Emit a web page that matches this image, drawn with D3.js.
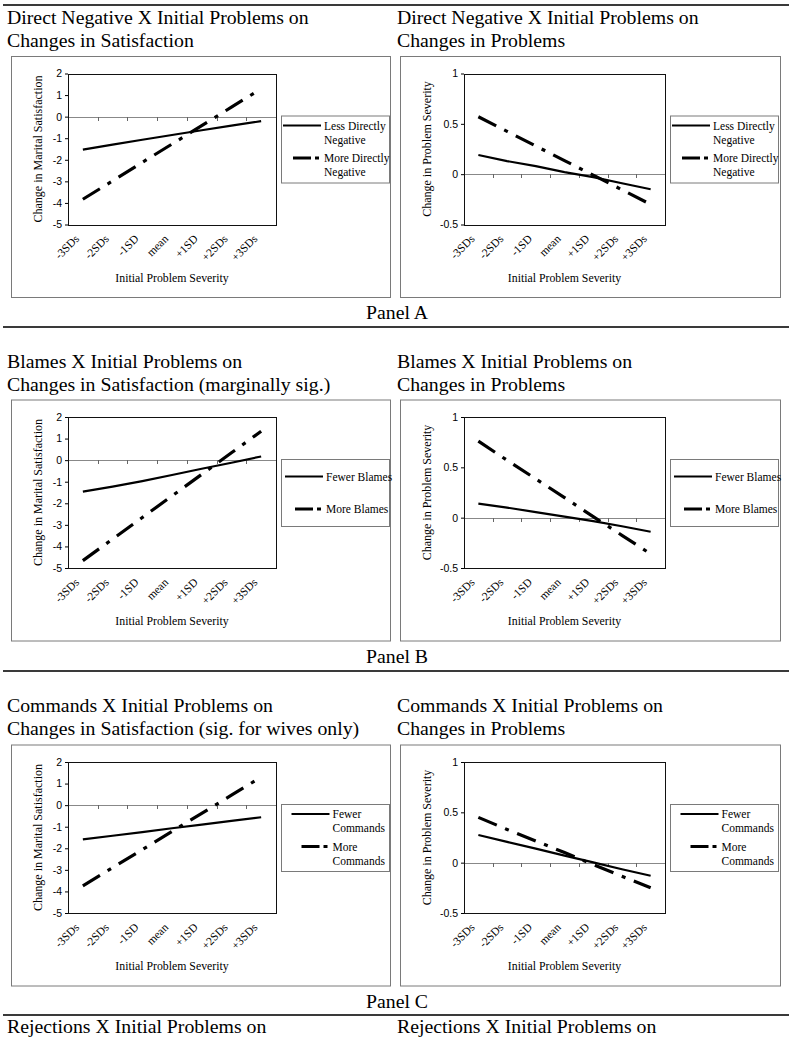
<!DOCTYPE html>
<html><head><meta charset="utf-8">
<script src="https://cdn.jsdelivr.net/npm/d3@7"></script>
<style>body{margin:0;background:#fff} svg{display:block}</style>
</head><body><svg id="c" width="794" height="1043"></svg>
<script>
// ---------------- DATA ----------------
const categories = ["-3SDs","-2SDs","-1SD","mean","+1SD","+2SDs","+3SDs"];
const satTicks = [-5,-4,-3,-2,-1,0,1,2];
const probTicks = [-0.5,0,0.5,1];

const panelTitles = ["Panel A","Panel B","Panel C"];
const chartTitles = [
  ["Direct Negative X Initial Problems on","Changes in Satisfaction"],
  ["Direct Negative X Initial Problems on","Changes in Problems"],
  ["Blames X Initial Problems on","Changes in Satisfaction (marginally sig.)"],
  ["Blames X Initial Problems on","Changes in Problems"],
  ["Commands X Initial Problems on","Changes in Satisfaction (sig. for wives only)"],
  ["Commands X Initial Problems on","Changes in Problems"]
];
const nextTitle = "Rejections X Initial Problems on";
const xTitle = "Initial Problem Severity";
const ySatTitle = "Change in Marital Satisfaction";
const yProbTitle = "Change in Problem Severity";

const legendA = [["Less Directly","Negative"],["More Directly","Negative"]];
const legendB = [["Fewer Blames"],["More Blames"]];
const legendC = [["Fewer","Commands"],["More","Commands"]];

const aSatLess  = [-1.53,-1.30,-1.07,-0.85,-0.63,-0.42,-0.21];
const aSatMore  = [-3.83,-2.98,-2.12,-1.27,-0.42,0.44,1.29];
const aProbLess = [0.19,0.13,0.08,0.02,-0.03,-0.09,-0.15];
const aProbMore = [0.57,0.425,0.28,0.135,-0.01,-0.155,-0.30];
const bSatFewer = [-1.46,-1.23,-0.97,-0.69,-0.40,-0.12,0.17];
const bSatMore  = [-4.66,-3.66,-2.66,-1.66,-0.66,0.34,1.34];
const bProbFewer= [0.14,0.10,0.055,0.01,-0.035,-0.085,-0.14];
const bProbMore = [0.76,0.57,0.385,0.20,0.01,-0.175,-0.36];
const cSatFewer = [-1.59,-1.42,-1.25,-1.07,-0.90,-0.73,-0.56];
const cSatMore  = [-3.74,-2.90,-2.06,-1.22,-0.38,0.46,1.30];
const cProbFewer= [0.275,0.207,0.14,0.07,0.003,-0.065,-0.13];
const cProbMore = [0.45,0.33,0.215,0.10,-0.02,-0.135,-0.25];

// ---------------- LAYOUT ----------------
const serif = "'Liberation Serif','Times New Roman',serif";
const sans = "'Liberation Sans',Arial,sans-serif";
const svg = d3.select("#c");

const ruleYs = [5, 327, 671, 1015];
const titleBase = [24, 368, 712];
const panelLabelBase = [319, 663, 1008];
const boxTops = [56, 399.5, 744.5];
const cols = [
  {boxX: 11, boxW: 379, plotL: 68, plotR: 276, legX: 281, titleX: 7},
  {boxX: 400, boxW: 380, plotL: 464, plotR: 665, legX: 670, titleX: 397}
];

ruleYs.forEach(y => svg.append("line").attr("x1",3).attr("x2",789).attr("y1",y).attr("y2",y)
  .attr("stroke","#3a3a3a").attr("stroke-width",2));

panelLabelBase.forEach((y,i) => svg.append("text").attr("x",397).attr("y",y)
  .attr("text-anchor","middle").attr("font-family",serif).attr("font-size",19.8).text(panelTitles[i]));

[7,397].forEach(x => svg.append("text").attr("x",x).attr("y",1033)
  .attr("font-family",serif).attr("font-size",19.8).text(nextTitle));

const charts = [
  {p:0,c:0,title:chartTitles[0],yTitle:ySatTitle,ticks:satTicks,dom:[-5,2],series:[aSatLess,aSatMore],leg:legendA,legIn:2},
  {p:0,c:1,title:chartTitles[1],yTitle:yProbTitle,ticks:probTicks,dom:[-0.5,1],series:[aProbLess,aProbMore],leg:legendA,legIn:2},
  {p:1,c:0,title:chartTitles[2],yTitle:ySatTitle,ticks:satTicks,dom:[-5,2],series:[bSatFewer,bSatMore],leg:legendB,legIn:4},
  {p:1,c:1,title:chartTitles[3],yTitle:yProbTitle,ticks:probTicks,dom:[-0.5,1],series:[bProbFewer,bProbMore],leg:legendB,legIn:4},
  {p:2,c:0,title:chartTitles[4],yTitle:ySatTitle,ticks:satTicks,dom:[-5,2],series:[cSatFewer,cSatMore],leg:legendC,legIn:10.5},
  {p:2,c:1,title:chartTitles[5],yTitle:yProbTitle,ticks:probTicks,dom:[-0.5,1],series:[cProbFewer,cProbMore],leg:legendC,legIn:10.5}
];

charts.forEach(ch => {
  const col = cols[ch.c];
  const bt = boxTops[ch.p];
  const g = svg.append("g");
  ch.title.forEach((t,i) => g.append("text").attr("x",col.titleX).attr("y",titleBase[ch.p]+i*22.5)
    .attr("font-family",serif).attr("font-size",19.8).text(t));
  g.append("rect").attr("x",col.boxX+0.5).attr("y",bt+0.5).attr("width",col.boxW).attr("height",241)
    .attr("fill","none").attr("stroke","#7a7a7a").attr("stroke-width",1);

  const top = bt + 17.5, bottom = bt + 168.5;
  const x = d3.scaleBand().domain(categories).range([col.plotL, col.plotR]).padding(0);
  const y = d3.scaleLinear().domain(ch.dom).range([bottom, top]);

  const yAxis = d3.axisLeft(y).tickValues(ch.ticks).tickSize(3).tickPadding(3)
    .tickFormat(d => String(d));
  const ya = g.append("g").attr("transform",`translate(${col.plotL},0)`).call(yAxis);
  ya.select(".domain").remove();
  ya.selectAll("line").attr("stroke","#000");
  ya.selectAll("text").attr("font-family",sans).attr("font-size",10.5).attr("fill","#000");

  const y0 = y(0);
  g.append("line").attr("x1",col.plotL).attr("x2",col.plotR).attr("y1",Math.round(y0)+0.5).attr("y2",Math.round(y0)+0.5)
    .attr("stroke","#888").attr("stroke-width",1);
  categories.slice(1).forEach(cat => {
    const xx = Math.round(x(cat))+0.5;
    g.append("line").attr("x1",xx).attr("x2",xx).attr("y1",Math.round(y0)).attr("y2",Math.round(y0)+4)
      .attr("stroke","#666").attr("stroke-width",1);
  });

  g.append("rect").attr("x",col.plotL+0.5).attr("y",Math.round(top)+0.5)
    .attr("width",col.plotR-col.plotL).attr("height",Math.round(bottom)-Math.round(top))
    .attr("fill","none").attr("stroke","#111").attr("stroke-width",1);

  categories.forEach(cat => {
    const cx = x(cat) + x.bandwidth()/2;
    g.append("text").attr("transform",`translate(${cx-3},${bottom+15}) rotate(-45)`)
      .attr("text-anchor","end").attr("font-family",serif).attr("font-size",11.5).text(cat);
  });

  g.append("text").attr("x",(col.plotL+col.plotR)/2).attr("y",bottom+57)
    .attr("text-anchor","middle").attr("font-family",serif).attr("font-size",11.8).text(xTitle);
  g.append("text").attr("transform",`translate(${col.boxX+31},${(top+bottom)/2}) rotate(-90)`)
    .attr("text-anchor","middle").attr("font-family",serif).attr("font-size",12).text(ch.yTitle);

  const line = d3.line().x((d,i) => x(categories[i]) + x.bandwidth()/2).y(d => y(d));
  g.append("path").datum(ch.series[0]).attr("d",line).attr("fill","none")
    .attr("stroke","#000").attr("stroke-width",2.2);
  g.append("path").datum(ch.series[1]).attr("d",line).attr("fill","none")
    .attr("stroke","#000").attr("stroke-width",3.2).attr("stroke-dasharray","20,9,4,9");

  const lt = bt + 59.5;
  const lx = col.legX;
  g.append("rect").attr("x",lx+0.5).attr("y",lt+0.5).attr("width",108).attr("height",67)
    .attr("fill","#fff").attr("stroke","#7a7a7a").attr("stroke-width",1);
  const two = ch.leg[0].length === 2;
  const rowsY = two ? [lt+10, lt+42.5] : [lt+17.5, lt+50];
  ch.leg.forEach((lines, i) => {
    const sy = rowsY[i];
    const sx = lx + ch.legIn;
    g.append("line").attr("x1",sx).attr("x2",sx+38).attr("y1",sy).attr("y2",sy)
      .attr("stroke","#000").attr("stroke-width", i===0 ? 2.2 : 3.2)
      .attr("stroke-dasharray", i===0 ? null : "0,10,18,4,4,10");
    lines.forEach((t,j) => g.append("text").attr("x",sx+41).attr("y",sy+4+j*14)
      .attr("font-family",serif).attr("font-size",11.5).text(t));
  });
});
</script></body></html>
